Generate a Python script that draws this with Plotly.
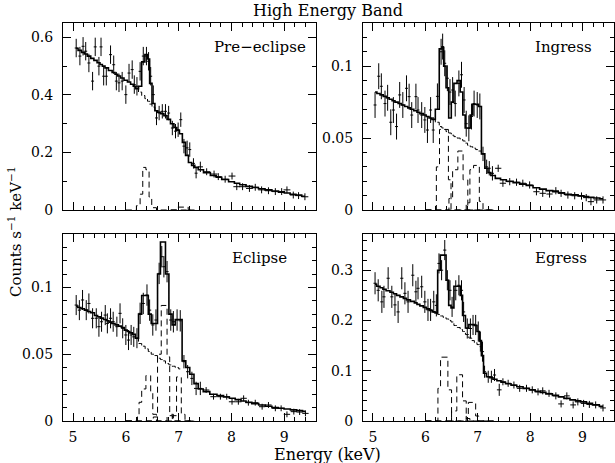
import plotly.graph_objects as go

# ---------------- Pre-eclipse ----------------
E_PRE = [5.06, 5.13, 5.19, 5.24, 5.30, 5.37, 5.42, 5.49, 5.53, 5.58, 5.63, 5.71, 5.77, 5.82, 5.87, 5.93,
         6.00, 6.06, 6.12, 6.16, 6.21, 6.27, 6.33, 6.39, 6.43, 6.47, 6.52, 6.58, 6.63, 6.69, 6.75, 6.81,
         6.88, 6.94, 6.99, 7.04, 7.10, 7.16, 7.21, 7.28, 7.33, 7.41, 7.53, 7.67, 7.75, 7.88, 8.01, 8.10,
         8.21, 8.34, 8.45, 8.57, 8.70, 8.83, 8.95, 9.05, 9.17, 9.27, 9.39]
V_PRE = [0.563, 0.535, 0.569, 0.552, 0.511, 0.448, 0.567, 0.500, 0.567, 0.465, 0.465, 0.540, 0.505, 0.448,
         0.442, 0.448, 0.401, 0.476, 0.488, 0.436, 0.430, 0.482, 0.535, 0.535, 0.517, 0.465, 0.401, 0.320,
         0.337, 0.343, 0.343, 0.337, 0.285, 0.274, 0.279, 0.314, 0.222, 0.216, 0.210, 0.162, 0.128, 0.150,
         0.133, 0.125, 0.116, 0.107, 0.118, 0.081, 0.081, 0.075, 0.079, 0.070, 0.067, 0.064, 0.064, 0.070,
         0.052, 0.050, 0.046]
EY_PRE = [0.032] * 27 + [0.025] * 12 + [0.018] * 3 + [0.012] * 17
EX_PRE = [0.028] * 41 + [0.05] + [0.065] * 17
M_PRE = [0.562, 0.555, 0.548, 0.542, 0.535, 0.527, 0.520, 0.512, 0.506, 0.500, 0.494, 0.485, 0.478, 0.472,
         0.466, 0.459, 0.451, 0.445, 0.437, 0.430, 0.422, 0.430, 0.515, 0.540, 0.525, 0.440, 0.370, 0.345,
         0.340, 0.335, 0.328, 0.315, 0.300, 0.287, 0.277, 0.265, 0.235, 0.190, 0.165, 0.155, 0.148, 0.140,
         0.130, 0.120, 0.114, 0.106, 0.098, 0.093, 0.088, 0.082, 0.078, 0.074, 0.070, 0.066, 0.062, 0.059,
         0.055, 0.052, 0.048]
CE_PRE = [6.21, 6.27, 6.33, 6.39, 6.43, 6.47, 6.52, 6.58]
CV_PRE = [0.422, 0.410, 0.398, 0.387, 0.378, 0.368, 0.358, 0.345]
LINES_PRE = [
    ([6.0, 6.20, 6.27, 6.32, 6.38, 6.44, 6.49, 6.58, 7.3], [0, 0.015, 0.055, 0.148, 0.140, 0.045, 0.008, 0, 0]),
    ([6.85, 6.97, 7.18, 7.3], [0, 0.010, 0, 0]),
]

# ---------------- Ingress ----------------
E_ING = [5.04, 5.11, 5.16, 5.23, 5.28, 5.34, 5.39, 5.45, 5.51, 5.57, 5.64, 5.69, 5.74, 5.82, 5.86, 5.93,
         5.99, 6.04, 6.10, 6.15, 6.23, 6.30, 6.33, 6.37, 6.42, 6.47, 6.52, 6.57, 6.64, 6.69, 6.74, 6.78,
         6.83, 6.88, 6.93, 6.99, 7.04, 7.10, 7.17, 7.22, 7.28, 7.39, 7.48, 7.61, 7.74, 7.86, 7.99, 8.12,
         8.24, 8.37, 8.49, 8.59, 8.72, 8.85, 8.98, 9.07, 9.16, 9.27, 9.39]
V_ING = [0.073, 0.093, 0.086, 0.074, 0.078, 0.061, 0.0695, 0.058, 0.080, 0.073, 0.0846, 0.0788, 0.066,
         0.0788, 0.0695, 0.066, 0.0626, 0.0556, 0.0695, 0.0556, 0.079, 0.110, 0.1136, 0.102, 0.0916, 0.082,
         0.0834, 0.074, 0.088, 0.094, 0.0765, 0.060, 0.0568, 0.065, 0.074, 0.073, 0.072, 0.039, 0.030,
         0.029, 0.0255, 0.029, 0.0186, 0.0197, 0.0193, 0.0186, 0.0174, 0.0127, 0.0116, 0.0111, 0.0134,
         0.0116, 0.0104, 0.0099, 0.0097, 0.0086, 0.0058, 0.0070, 0.0070]
EY_ING = [0.009] * 37 + [0.005] * 4 + [0.0025] * 18
EX_ING = [0.028] * 40 + [0.03] + [0.06] * 18
M_ING = [0.082, 0.081, 0.080, 0.079, 0.078, 0.077, 0.076, 0.075, 0.074, 0.073, 0.072, 0.071, 0.070, 0.069,
         0.068, 0.067, 0.066, 0.065, 0.064, 0.063, 0.070, 0.112, 0.113, 0.100, 0.085, 0.064, 0.075, 0.088,
         0.090, 0.082, 0.066, 0.057, 0.057, 0.066, 0.0735, 0.0735, 0.072, 0.039, 0.029, 0.026, 0.024, 0.022,
         0.021, 0.020, 0.019, 0.018, 0.017, 0.0155, 0.0145, 0.0135, 0.0127, 0.012, 0.011, 0.0105, 0.0098,
         0.0093, 0.0088, 0.0083, 0.0078]
CE_ING = [6.15, 6.23, 6.30, 6.33, 6.37, 6.42, 6.47, 6.52, 6.57, 6.64, 6.69, 6.74, 6.78, 6.83, 6.88, 6.93,
          6.99, 7.04, 7.10]
CV_ING = [0.063, 0.061, 0.058, 0.057, 0.056, 0.0545, 0.0535, 0.052, 0.051, 0.050, 0.049, 0.048, 0.0465,
          0.045, 0.044, 0.043, 0.042, 0.041, 0.039]
LINES_ING = [
    ([6.0, 6.21, 6.27, 6.44, 6.49, 7.3], [0, 0.030, 0.056, 0.021, 0, 0]),
    ([6.0, 6.45, 6.52, 6.62, 6.72, 6.81, 7.3], [0, 0.008, 0.028, 0.041, 0.021, 0, 0]),
    ([6.0, 6.78, 6.85, 6.92, 7.03, 7.10, 7.3], [0, 0.005, 0.028, 0.031, 0.006, 0, 0]),
]

# ---------------- Eclipse ----------------
E_ECL = [5.06, 5.12, 5.18, 5.25, 5.30, 5.37, 5.44, 5.49, 5.54, 5.61, 5.65, 5.71, 5.76, 5.83, 5.89, 5.94,
         6.00, 6.05, 6.10, 6.15, 6.21, 6.27, 6.33, 6.40, 6.45, 6.51, 6.57, 6.63, 6.68, 6.72, 6.78, 6.85,
         6.90, 6.97, 7.03, 7.10, 7.17, 7.25, 7.33, 7.41, 7.52, 7.66, 7.79, 7.91, 8.01, 8.13, 8.23, 8.32,
         8.45, 8.58, 8.70, 8.83, 8.94, 9.05, 9.18, 9.29, 9.40]
V_ECL = [0.0868, 0.083, 0.0906, 0.083, 0.088, 0.0769, 0.0769, 0.0706, 0.0743, 0.0793, 0.0731, 0.0769,
         0.0743, 0.0706, 0.0806, 0.0694, 0.0644, 0.0606, 0.0644, 0.063, 0.062, 0.0806, 0.088, 0.0943, 0.083,
         0.0719, 0.0756, 0.1105, 0.123, 0.1155, 0.1118, 0.0756, 0.0743, 0.0756, 0.075, 0.0444, 0.0369,
         0.0319, 0.0244, 0.0244, 0.0232, 0.0182, 0.0182, 0.0182, 0.0144, 0.0144, 0.017, 0.0137, 0.0137,
         0.0107, 0.012, 0.0095, 0.0095, 0.005, 0.007, 0.0067, 0.0057]
EY_ECL = [0.0075] * 21 + [0.008] * 14 + [0.005] * 5 + [0.0022] * 17
EX_ECL = [0.03] * 38 + [0.04] * 2 + [0.06] * 17
M_ECL = [0.086, 0.085, 0.084, 0.083, 0.082, 0.081, 0.079, 0.078, 0.077, 0.076, 0.075, 0.074, 0.073, 0.072,
         0.071, 0.070, 0.068, 0.067, 0.066, 0.065, 0.062, 0.080, 0.094, 0.094, 0.080, 0.073, 0.073, 0.110,
         0.134, 0.134, 0.110, 0.080, 0.072, 0.076, 0.076, 0.045, 0.040, 0.035, 0.028, 0.024, 0.022, 0.020,
         0.019, 0.018, 0.017, 0.016, 0.015, 0.014, 0.013, 0.012, 0.011, 0.010, 0.0095, 0.009, 0.0083,
         0.0078, 0.0072]
CE_ECL = [6.21, 6.27, 6.33, 6.40, 6.45, 6.51, 6.57, 6.63, 6.68, 6.72, 6.78, 6.85, 6.90, 6.97, 7.03]
CV_ECL = [0.062, 0.058, 0.056, 0.054, 0.052, 0.050, 0.049, 0.047, 0.046, 0.045, 0.043, 0.042, 0.041, 0.040,
          0.039]
LINES_ECL = [
    ([6.0, 6.22, 6.25, 6.30, 6.38, 6.47, 6.51, 6.58, 6.78, 6.88, 7.3],
     [0, 0.004, 0.014, 0.024, 0.034, 0.022, 0.005, 0, 0.004, 0, 0]),
    ([6.0, 6.52, 6.60, 6.67, 6.78, 6.83, 6.90, 7.3], [0, 0.003, 0.050, 0.0865, 0.048, 0.005, 0, 0]),
    ([6.0, 6.88, 6.96, 7.05, 7.12, 7.3], [0, 0.004, 0.033, 0.005, 0, 0]),
]

# ---------------- Egress ----------------
E_EGR = [5.04, 5.10, 5.17, 5.21, 5.29, 5.36, 5.42, 5.48, 5.55, 5.61, 5.67, 5.76, 5.82, 5.86, 5.93, 5.99,
         6.05, 6.10, 6.16, 6.21, 6.26, 6.31, 6.37, 6.42, 6.47, 6.51, 6.58, 6.64, 6.69, 6.73, 6.80, 6.86,
         6.91, 6.96, 7.01, 7.05, 7.09, 7.13, 7.20, 7.26, 7.32, 7.41, 7.48, 7.58, 7.69, 7.80, 7.93, 8.04,
         8.15, 8.24, 8.36, 8.49, 8.59, 8.70, 8.82, 8.91, 9.02, 9.13, 9.25, 9.39]
V_EGR = [0.274, 0.260, 0.237, 0.247, 0.284, 0.247, 0.231, 0.217, 0.284, 0.254, 0.237, 0.290, 0.257, 0.264,
         0.267, 0.237, 0.221, 0.221, 0.237, 0.230, 0.3135, 0.300, 0.340, 0.280, 0.260, 0.227, 0.260, 0.270,
         0.260, 0.217, 0.184, 0.184, 0.191, 0.191, 0.178, 0.158, 0.138, 0.098, 0.088, 0.088, 0.0915, 0.062,
         0.078, 0.075, 0.0716, 0.065, 0.065, 0.062, 0.058, 0.060, 0.055, 0.050, 0.034, 0.050, 0.032, 0.038,
         0.035, 0.033, 0.032, 0.026]
EY_EGR = [0.022] * 20 + [0.02] * 17 + [0.012] * 5 + [0.007] * 18
EX_EGR = [0.03] * 41 + [0.045] + [0.055] * 18
M_EGR = [0.272, 0.268, 0.265, 0.262, 0.259, 0.256, 0.253, 0.250, 0.247, 0.244, 0.241, 0.238, 0.235, 0.232,
         0.229, 0.226, 0.223, 0.220, 0.217, 0.215, 0.300, 0.330, 0.330, 0.280, 0.230, 0.225, 0.268, 0.268,
         0.250, 0.210, 0.185, 0.192, 0.192, 0.190, 0.178, 0.160, 0.130, 0.095, 0.088, 0.086, 0.083, 0.080,
         0.077, 0.074, 0.071, 0.068, 0.065, 0.062, 0.059, 0.057, 0.054, 0.051, 0.048, 0.045, 0.042, 0.040,
         0.038, 0.035, 0.032, 0.029]
CE_EGR = [6.21, 6.26, 6.31, 6.37, 6.42, 6.47, 6.51, 6.58, 6.64, 6.69, 6.73, 6.80, 6.86, 6.91, 6.96, 7.01,
          7.05, 7.09]
CV_EGR = [0.215, 0.212, 0.209, 0.206, 0.203, 0.200, 0.197, 0.190, 0.186, 0.182, 0.178, 0.172, 0.165, 0.160,
          0.156, 0.152, 0.148, 0.130]
LINES_EGR = [
    ([6.0, 6.24, 6.29, 6.43, 6.50, 7.3], [0, 0.065, 0.127, 0.062, 0, 0]),
    ([6.0, 6.50, 6.60, 6.71, 6.78, 6.85, 7.3], [0, 0.020, 0.092, 0.040, 0.005, 0, 0]),
    ([6.0, 6.78, 6.82, 6.96, 7.02, 7.10, 7.3], [0, 0.010, 0.037, 0.010, 0, 0, 0]),
]

PANEL_NAMES = ["Pre\u2212eclipse", "Ingress", "Eclipse", "Egress"]
Y_RANGES = [[0, 0.65], [0, 0.13], [0, 0.14], [0, 0.372]]
Y_DTICK = [0.2, 0.05, 0.05, 0.1]
Y_MINOR = [0.1, 0.01, 0.01, 0.02]
X_RANGE = [4.81, 9.6]

W, H = 615, 463
FONT = "DejaVu Serif"

fig = go.Figure()


def add_panel(n, E, V, EX, EY, M, CE, CV, lines):
    xa = 'x' if n == 1 else 'x%d' % n
    ya = 'y' if n == 1 else 'y%d' % n
    common = dict(xaxis=xa, yaxis=ya, showlegend=False, hoverinfo='skip')
    fig.add_trace(go.Scatter(
        x=E, y=V, mode='markers', marker=dict(size=2, color='black', opacity=0),
        error_x=dict(type='data', array=EX, symmetric=True, thickness=1, width=0, color='black'),
        error_y=dict(type='data', array=EY, symmetric=True, thickness=1, width=0, color='black'),
        **common))
    fig.add_trace(go.Scatter(x=E, y=M, mode='lines',
                             line=dict(shape='hvh', color='black', width=1.6), **common))
    fig.add_trace(go.Scatter(x=CE, y=CV, mode='lines',
                             line=dict(shape='hvh', color='black', width=1, dash='5px,2px'), **common))
    for lx, ly in lines:
        fig.add_trace(go.Scatter(x=lx, y=ly, mode='lines',
                                 line=dict(shape='hv', color='black', width=1, dash='6px,4px'), **common))


add_panel(1, E_PRE, V_PRE, EX_PRE, EY_PRE, M_PRE, CE_PRE, CV_PRE, LINES_PRE)
add_panel(2, E_ING, V_ING, EX_ING, EY_ING, M_ING, CE_ING, CV_ING, LINES_ING)
add_panel(3, E_ECL, V_ECL, EX_ECL, EY_ECL, M_ECL, CE_ECL, CV_ECL, LINES_ECL)
add_panel(4, E_EGR, V_EGR, EX_EGR, EY_EGR, M_EGR, CE_EGR, CV_EGR, LINES_EGR)

# pixel boxes of the four panels: (left, right, top, bottom)
BOXES = [(63, 316, 23, 210), (363, 614, 23, 210), (63, 316, 234, 421), (363, 614, 234, 421)]

tickfont = dict(family=FONT, size=14, color='black')
layout = dict(width=W, height=H, margin=dict(l=0, r=0, t=0, b=0, autoexpand=False),
              template='none',
              paper_bgcolor='white', plot_bgcolor='white', showlegend=False)

for i, (l, r, t, b) in enumerate(BOXES):
    n = i + 1
    xk = 'xaxis' if n == 1 else 'xaxis%d' % n
    yk = 'yaxis' if n == 1 else 'yaxis%d' % n
    xa = 'x' if n == 1 else 'x%d' % n
    ya = 'y' if n == 1 else 'y%d' % n
    layout[xk] = dict(domain=[l / W, r / W], anchor=ya, range=X_RANGE, automargin=False,
                      showline=True, linecolor='black', linewidth=1, mirror='allticks',
                      ticks='inside', ticklen=8, tickwidth=1, tickcolor='black',
                      dtick=1, tick0=0, showticklabels=(n >= 3), tickfont=tickfont,
                      ticklabelstandoff=3,
                      showgrid=False, zeroline=False,
                      minor=dict(dtick=0.2, tick0=0, ticks='inside', ticklen=4, tickcolor='black',
                                 tickwidth=1, showgrid=False))
    layout[yk] = dict(domain=[1 - b / H, 1 - t / H], anchor=xa, range=Y_RANGES[i], automargin=False,
                      showline=True, linecolor='black', linewidth=1, mirror='allticks',
                      ticks='inside', ticklen=8, tickwidth=1, tickcolor='black',
                      dtick=Y_DTICK[i], tick0=0, tickfont=tickfont, ticklabelstandoff=6,
                      showgrid=False, zeroline=False,
                      minor=dict(dtick=Y_MINOR[i], tick0=0, ticks='inside', ticklen=4,
                                 tickcolor='black', tickwidth=1, showgrid=False))

fig.update_layout(**layout)

LABEL_POS = [(212, 47), (533, 47), (230, 258), (533, 258)]
ann = []
for name, (px, py) in zip(PANEL_NAMES, LABEL_POS):
    ann.append(dict(text=name, x=px / W, y=1 - py / H, xref='paper', yref='paper',
                    xanchor='left', yanchor='middle', showarrow=False,
                    font=dict(family=FONT, size=15, color='black')))
ann.append(dict(text="High Energy Band", x=328 / W, y=1 - 10 / H, xref='paper', yref='paper',
                xanchor='center', yanchor='middle', showarrow=False,
                font=dict(family=FONT, size=16, color='black')))
ann.append(dict(text="Energy (keV)", x=327 / W, y=1 - 454 / H, xref='paper', yref='paper',
                xanchor='center', yanchor='middle', showarrow=False,
                font=dict(family=FONT, size=16, color='black')))
ann.append(dict(text="Counts s<sup>\u22121</sup> keV<sup>\u22121</sup>", x=15 / W, y=1 - 232 / H,
                xref='paper', yref='paper', xanchor='center', yanchor='middle', showarrow=False,
                textangle=-90, font=dict(family=FONT, size=15, color='black')))
fig.update_layout(annotations=ann)

fig.write_html("out.html", config={'displayModeBar': False, 'staticPlot': True},
               post_script="document.body.style.margin='0';document.body.style.overflow='hidden';")
